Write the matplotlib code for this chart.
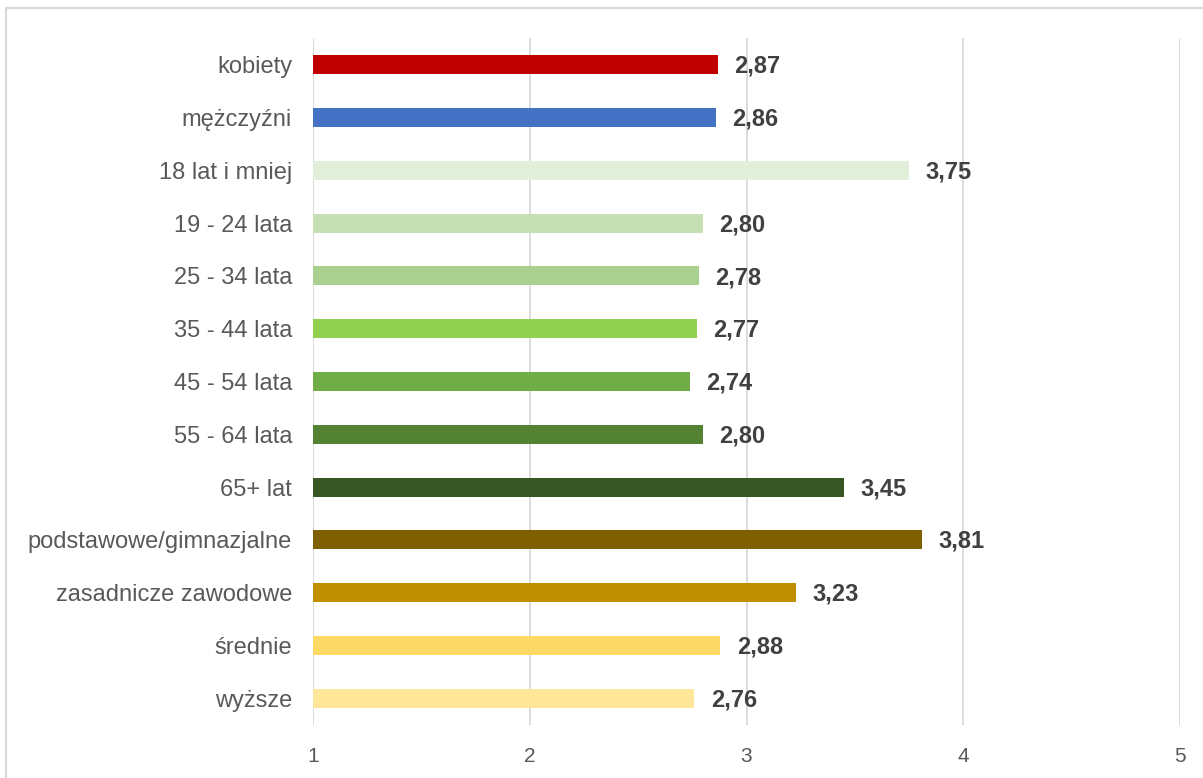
import matplotlib.pyplot as plt
from matplotlib.patches import Rectangle

plt.rcParams['font.family'] = ['Liberation Sans', 'DejaVu Sans']

categories = ['kobiety', 'mężczyźni', '18 lat i mniej', '19 - 24 lata', '25 - 34 lata',
              '35 - 44 lata', '45 - 54 lata', '55 - 64 lata', '65+ lat',
              'podstawowe/gimnazjalne', 'zasadnicze zawodowe', 'średnie', 'wyższe']
values = [2.87, 2.86, 3.75, 2.80, 2.78, 2.77, 2.74, 2.80, 3.45, 3.81, 3.23, 2.88, 2.76]
colors = ['#C00000', '#4472C4', '#E2EFDA', '#C6E0B4', '#A9D08E', '#92D050', '#70AD47',
          '#548235', '#375623', '#7F6000', '#BF8F00', '#FFD966', '#FFE699']
xticks = [1, 2, 3, 4, 5]

fig = plt.figure(figsize=(12.03, 7.78), dpi=100)
ax = fig.add_axes([313 / 1203, 1 - 724.5 / 778, (1180 - 313) / 1203, (724.5 - 38.5) / 778])

# outer chart border
fig.patches.append(Rectangle((6 / 1203, -0.1), 1.2, 1 - 8 / 778 + 0.1, transform=fig.transFigure,
                             fill=False, edgecolor='#D9D9D9', linewidth=1.5))

y = list(range(len(categories)))
ax.barh(y, [v - 1 for v in values], left=1, height=0.36, color=colors, zorder=3)

for yi, v in zip(y, values):
    ax.text(v + 0.075, yi + 0.03, f'{v:.2f}'.replace('.', ','), va='center', ha='left',
            fontsize=17, fontweight='bold', color='#404040')

ax.set_xlim(1, 5)
ax.set_ylim(len(categories) - 0.5, -0.5)
ax.set_xticks(xticks)
ax.set_xticklabels([str(t) for t in xticks], fontsize=15, color='#595959',
                   family=['Liberation Sans Narrow', 'Liberation Sans'])
ax.tick_params(axis='both', length=0)
ax.set_yticks(y)
ax.set_yticklabels(categories, fontsize=17, color='#595959')
ax.tick_params(axis='x', pad=16)
ax.tick_params(axis='y', pad=15)
ax.grid(axis='x', color='#D9D9D9', linewidth=1.3, zorder=0)
for s in ax.spines.values():
    s.set_visible(False)

fig.savefig('out.png', dpi=100)
